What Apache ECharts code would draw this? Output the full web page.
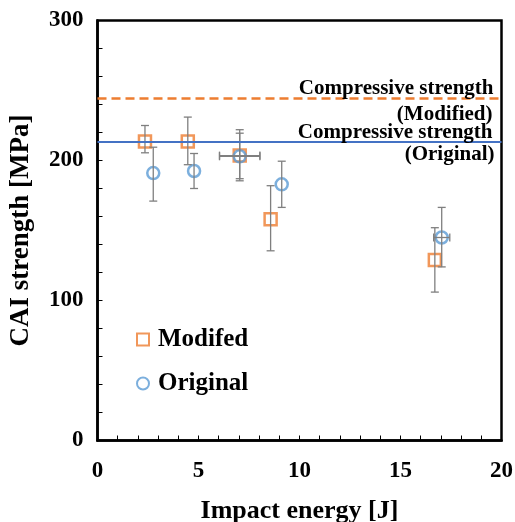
<!DOCTYPE html>
<html>
<head>
<meta charset="utf-8">
<script src="https://cdn.jsdelivr.net/npm/echarts@6/dist/echarts.min.js"></script>
<style>
  html, body { margin: 0; padding: 0; background: #fff; }
  #chart { width: 515px; height: 522px; }
</style>
</head>
<body>
<div id="chart"></div>
<script>
// values
const modEnergy = [2.35, 4.47, 7.04, 8.57, 16.7];
const modEnergyErr = [0, 0, 1.0, 0, 0];
const modCai = [213.5, 213.5, 203.5, 158, 129];
const modCaiLo = [205.5, 197, 187, 135.5, 106];
const modCaiHi = [225, 231, 222, 182, 152];

const origEnergy = [2.76, 4.78, 7.04, 9.12, 17.04];
const origEnergyErr = [0, 0, 1.0, 0, 0.4];
const origCai = [191, 192.5, 203, 183, 145];
const origCaiLo = [171, 180, 185.5, 166.5, 124];
const origCaiHi = [209.5, 205, 219.5, 199.5, 166.5];

const strengthModified = 244.5;
const strengthOriginal = 213.5;

const xTicks = [0, 5, 10, 15, 20];
const yTicks = [0, 100, 200, 300];

const ORANGE = "#ED7D31";
const BLUE = "#5B9BD5";
const LINE_BLUE = "#4472C4";
const ERR = "#7f7f7f";
const FONT = "Liberation Serif";

const points = (xs, ys) => xs.map((x, i) => [x, ys[i]]);
const errRows = (xs, xe, ys, lo, hi) =>
  xs.map((x, i) => [x, ys[i], lo[i], hi[i], x - xe[i], x + xe[i]]);

function renderErr(params, api) {
  const x = api.value(0), y = api.value(1);
  const lo = api.coord([x, api.value(2)]);
  const hi = api.coord([x, api.value(3)]);
  const c = api.coord([x, y]);
  const cap = 4;
  const style = { stroke: ERR, lineWidth: 1.3 };
  const kids = [
    { type: "line", shape: { x1: lo[0], y1: lo[1], x2: hi[0], y2: hi[1] }, style },
    { type: "line", shape: { x1: lo[0] - cap, y1: lo[1], x2: lo[0] + cap, y2: lo[1] }, style },
    { type: "line", shape: { x1: hi[0] - cap, y1: hi[1], x2: hi[0] + cap, y2: hi[1] }, style }
  ];
  if (api.value(5) > api.value(4)) {
    const l = api.coord([api.value(4), y]);
    const r = api.coord([api.value(5), y]);
    kids.push(
      { type: "line", shape: { x1: l[0], y1: c[1], x2: r[0], y2: c[1] }, style },
      { type: "line", shape: { x1: l[0], y1: c[1] - cap, x2: l[0], y2: c[1] + cap }, style },
      { type: "line", shape: { x1: r[0], y1: c[1] - cap, x2: r[0], y2: c[1] + cap }, style }
    );
  }
  return { type: "group", children: kids };
}

const labelText = { fontFamily: FONT, fontWeight: "bold", fontSize: 21, color: "#000" };

const chart = echarts.init(document.getElementById("chart"));

chart.setOption({
  animation: false,
  backgroundColor: "#fff",
  textStyle: { fontFamily: FONT },
  grid: {
    left: 97.5,
    right: 13.5,
    top: 20.5,
    bottom: 81.5,
    outerBoundsMode: "none",
    containLabel: false,
    show: true,
    borderColor: "#000",
    borderWidth: 2.5,
    backgroundColor: "transparent"
  },
  legend: {
    orient: "vertical",
    left: 131,
    top: 322,
    itemWidth: 12,
    itemHeight: 12,
    itemGap: 19,
    textStyle: { fontFamily: FONT, fontWeight: "bold", fontSize: 25, color: "#000", padding: [0, 0, 0, 4] },
    data: [
      { name: "Modifed", icon: "rect", itemStyle: { color: "#fff", borderColor: ORANGE, borderWidth: 2 } },
      { name: "Original", icon: "circle", itemStyle: { color: "#fff", borderColor: BLUE, borderWidth: 2 } }
    ]
  },
  xAxis: {
    type: "value",
    min: 0,
    max: 20,
    interval: 1,
    name: "Impact energy [J]",
    nameLocation: "middle",
    nameGap: 58,
    nameTextStyle: { fontFamily: FONT, fontWeight: "bold", fontSize: 26, color: "#000" },
    axisLine: { lineStyle: { color: "#000", width: 2.5 } },
    axisTick: { inside: true, length: 5, lineStyle: { color: "#000", width: 1 } },
    axisLabel: {
      margin: 19,
      fontFamily: FONT,
      fontWeight: "bold",
      fontSize: 23,
      color: "#000",
      formatter: (v) => (xTicks.includes(v) ? String(v) : "")
    },
    splitLine: { show: false }
  },
  yAxis: {
    type: "value",
    min: 0,
    max: 300,
    interval: 20,
    name: "CAI strength [MPa]",
    nameLocation: "middle",
    nameGap: 63,
    nameTextStyle: { fontFamily: FONT, fontWeight: "bold", fontSize: 27, color: "#000" },
    axisLine: { lineStyle: { color: "#000", width: 2.5 } },
    axisTick: { inside: true, length: 5, lineStyle: { color: "#000", width: 1 } },
    axisLabel: {
      margin: 14,
      fontFamily: FONT,
      fontWeight: "bold",
      fontSize: 23,
      color: "#000",
      formatter: (v) => (yTicks.includes(v) ? String(v) : "")
    },
    splitLine: { show: false }
  },
  series: [
    {
      name: "Modifed",
      type: "scatter",
      symbol: "rect",
      symbolSize: 12,
      itemStyle: { color: "transparent", borderColor: ORANGE, borderWidth: 2.5 },
      data: points(modEnergy, modCai),
      z: 3,
      markLine: {
        silent: true,
        symbol: "none",
        data: [
          {
            yAxis: strengthModified,
            lineStyle: { color: ORANGE, type: [9, 5], width: 2.5 },
            label: Object.assign({ position: "insideEndTop", distance: [8, -1], formatter: "Compressive strength" }, labelText)
          },
          {
            yAxis: strengthModified,
            lineStyle: { color: "rgba(0,0,0,0)", width: 0.1 },
            label: Object.assign({ position: "insideEndBottom", distance: [9, 6], formatter: "(Modified)" }, labelText)
          }
        ]
      }
    },
    {
      name: "Original",
      type: "scatter",
      symbol: "circle",
      symbolSize: 12,
      itemStyle: { color: "transparent", borderColor: BLUE, borderWidth: 2.5 },
      data: points(origEnergy, origCai),
      z: 3,
      markLine: {
        silent: true,
        symbol: "none",
        data: [
          {
            yAxis: strengthOriginal,
            lineStyle: { color: LINE_BLUE, type: "solid", width: 2 },
            label: Object.assign({ position: "insideEndTop", distance: [9, -1], formatter: "Compressive strength" }, labelText)
          },
          {
            yAxis: strengthOriginal,
            lineStyle: { color: "rgba(0,0,0,0)", width: 0.1 },
            label: Object.assign({ position: "insideEndBottom", distance: [7, 2], formatter: "(Original)" }, labelText)
          }
        ]
      }
    },
    {
      type: "custom",
      renderItem: renderErr,
      data: errRows(modEnergy, modEnergyErr, modCai, modCaiLo, modCaiHi),
      encode: { x: 0, y: 1 },
      silent: true,
      z: 4
    },
    {
      type: "custom",
      renderItem: renderErr,
      data: errRows(origEnergy, origEnergyErr, origCai, origCaiLo, origCaiHi),
      encode: { x: 0, y: 1 },
      silent: true,
      z: 4
    }
  ]
});
</script>
</body>
</html>
